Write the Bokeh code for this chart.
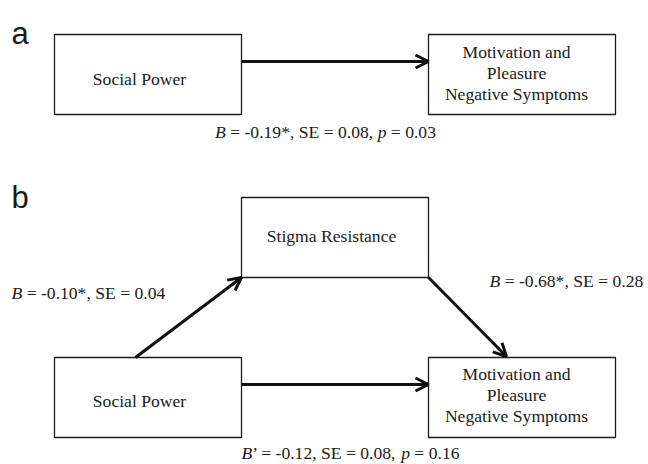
from bokeh.plotting import figure
from bokeh.models import Range1d, Arrow, OpenHead
from bokeh.core.properties import value
from bokeh.embed import file_html
from bokeh.resources import INLINE

# ---------------- data ----------------
panel_names = ["a", "b"]
node_names = ["Social Power", "Motivation and\nPleasure\nNegative Symptoms", "Stigma Resistance"]
# coefficient paths: a-total, b-a path, b-b path, b-direct
coef_symbol = ["B", "B", "B", "B’"]
coef_B = [-0.19, -0.10, -0.68, -0.12]
coef_star = ["*", "*", "*", ""]
coef_SE = [0.08, 0.04, 0.28, 0.08]
coef_p = [0.03, None, None, 0.16]

# ---------------- layout (screen pixels) ----------------
W, H = 648, 464
SERIF = "Liberation Serif"
SANS = "Liberation Sans"
FS = 17.6
INK = "#1a1a1a"

p = figure(width=W, height=H, output_backend="svg", toolbar_location=None,
           x_range=Range1d(0, W), y_range=Range1d(H, 0),
           min_border=0, outline_line_color=None)
p.axis.visible = False
p.grid.visible = False
p.background_fill_color = "white"
p.border_fill_color = "white"

boxes = {
    "a_x": (54, 34, 241, 114),
    "a_y": (428, 34, 615, 114),
    "b_m": (241, 197, 428, 277),
    "b_x": (54, 357, 241, 437),
    "b_y": (428, 357, 615, 437),
}
box_text = {
    "a_x": (node_names[0], 139, 78),
    "a_y": (node_names[1], 516, 72),
    "b_m": (node_names[2], 331, 235),
    "b_x": (node_names[0], 139, 400),
    "b_y": (node_names[1], 516, 394),
}

for key, (l, t, r, b) in boxes.items():
    p.quad(left=[l], right=[r], top=[t], bottom=[b], fill_color="white",
           line_color=INK, line_width=1.3)
    txt, cx, cy = box_text[key]
    lines = txt.split("\n")
    n = len(lines)
    for i, ln in enumerate(lines):
        y = cy + (i - (n - 1) / 2) * 21
        p.text(x=[cx], y=[y], text=[ln], text_align="center", text_baseline="middle",
               text_font_size=f"{FS}px", text_color=INK, text_font=value(SERIF))

# arrows
def arrow(x0, y0, x1, y1):
    p.add_layout(Arrow(end=OpenHead(size=13, line_width=3, line_color="#111111"),
                       x_start=x0, y_start=y0, x_end=x1, y_end=y1,
                       line_width=3, line_color="#111111"))

ax, ay, bm, bx, by = (boxes[k] for k in ["a_x", "a_y", "b_m", "b_x", "b_y"])
arrow(ax[2], 61, ay[0], 61)
arrow(bx[2], 384, by[0], 384)
arrow(135, bx[1], bm[0], bm[3])
arrow(bm[2], bm[3], 506, by[1] - 1)

# panel labels
p.text(x=[11, 11], y=[33, 197], text=panel_names, text_font=value(SANS),
       text_font_size="31px", text_baseline="alphabetic", text_align="left",
       text_color=INK)

# rich coefficient labels
REG = {' ': 250, '\u00a0': 250, ',': 250, '-': 333, '.': 250, '*': 500, '=': 564,
       'B': 667, 'E': 611, 'S': 556, 'p': 500, '’': 333}
ITA = {'B': 611, 'p': 500}

def width(s, italic):
    tot = 0
    for ch in s:
        if italic and ch in ITA:
            tot += ITA[ch]
        elif ch.isdigit():
            tot += 500
        else:
            tot += REG.get(ch, 500)
    return tot / 1000 * FS

def coef_segments(i):
    sym = coef_symbol[i]
    segs = [(sym[0], True)]
    rest = sym[1:] + f" = {coef_B[i]:.2f}{coef_star[i]}, SE = {coef_SE[i]:.2f}"
    if coef_p[i] is not None:
        segs.append((rest + ", ", False))
        segs.append(("p", True))
        segs.append((f" = {coef_p[i]:.2f}", False))
    else:
        segs.append((rest, False))
    return segs

def rich(i, x, y, align):
    segs = coef_segments(i)
    total = sum(width(s, it) for s, it in segs)
    cur = x - total / 2 if align == "center" else x
    for s, it in segs:
        shown = s
        if shown.startswith(" "):
            shown = "\u00a0" + shown[1:]
        if shown.endswith(" "):
            shown = shown[:-1] + "\u00a0"
        p.text(x=[cur], y=[y], text=[shown], text_font=value(SERIF),
               text_font_style="italic" if it else "normal",
               text_font_size=f"{FS}px", text_align="left", text_baseline="middle",
               text_color=INK)
        cur += width(s, it)

rich(0, 325, 131, "center")
rich(1, 11, 292, "left")
rich(2, 489, 280, "left")
rich(3, 350, 452, "center")

open("out.html", "w").write(file_html(p, INLINE))
